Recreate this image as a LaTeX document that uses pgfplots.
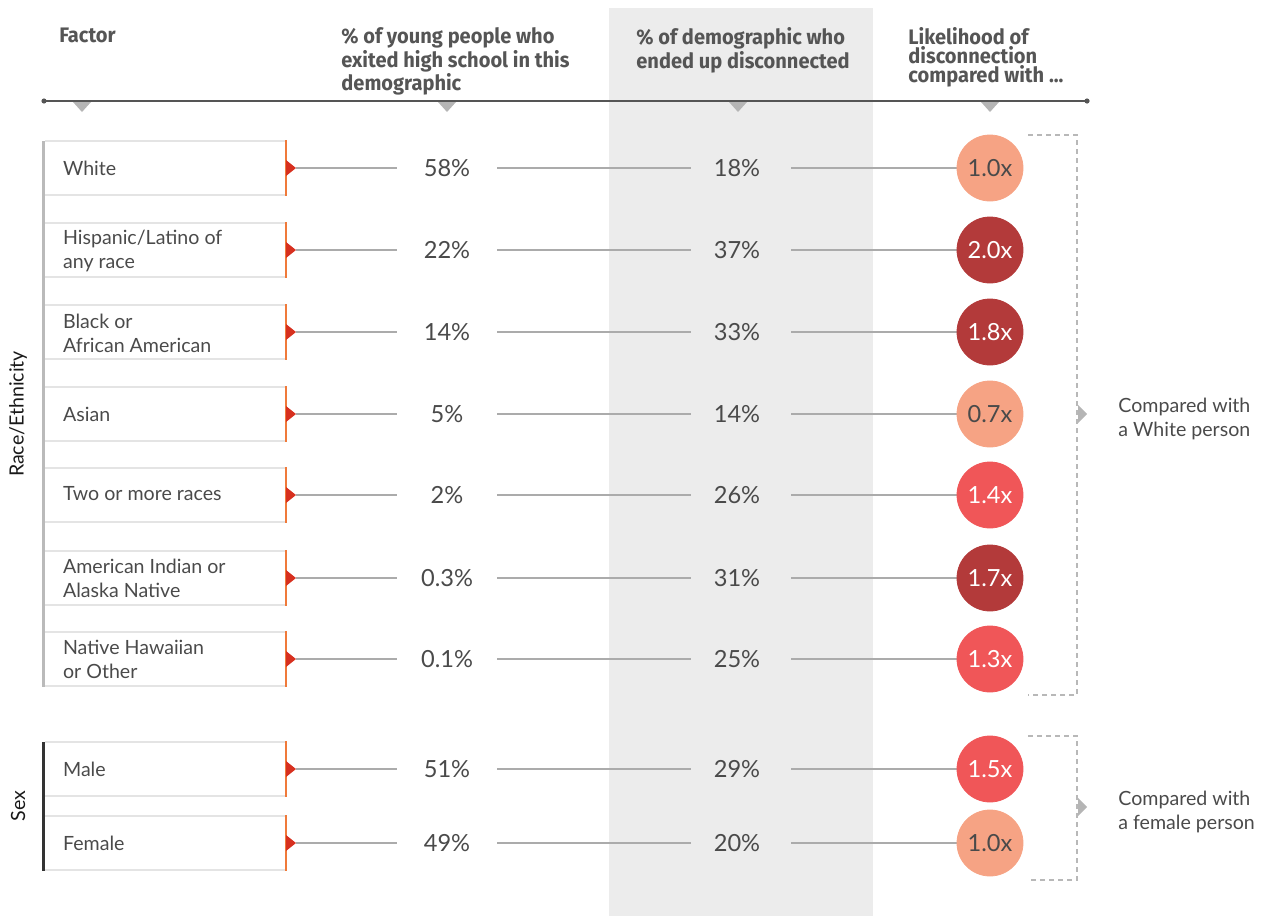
\documentclass[border=0pt]{standalone}
\usepackage{pgfplots}
\pgfplotsset{compat=1.18}
\usepackage{pgfplotstable}
\usepackage{fontspec}
\setmainfont{Lato}
\newfontfamily\headfont[FakeStretch=0.955]{Fira Sans}
\definecolor{txt}{HTML}{4A4A4A}
\definecolor{hdr}{HTML}{555555}
\definecolor{lite}{HTML}{F6A384}
\definecolor{mid}{HTML}{F05658}
\definecolor{dark}{HTML}{B33A3A}
\definecolor{edge}{HTML}{F07A3A}
\definecolor{tri}{HTML}{D7301F}
\definecolor{colshade}{HTML}{ECECEC}
\definecolor{boxln}{HTML}{E4E4E4}
\definecolor{conn}{HTML}{ABABAB}
\definecolor{trig}{HTML}{B5B5B5}

% y = row centre (pixels from top), exit = % who exited high school, disc = % disconnected
\pgfplotstableread{
y exit disc
168 58 18
250 22 37
332 14 33
414 5 14
495 2 26
578 0.3 31
659 0.1 25
769 51 29
843 49 20
}\rows

\newcommand\pctfont{\fontsize{11.8}{12}\selectfont}
\newcommand\lblfont{\fontsize{9.8}{12}\selectfont}
\newcommand\hdrfont{\headfont\bfseries\fontsize{10.5}{9.5}\selectfont}

\begin{document}
\begin{tikzpicture}
\begin{axis}[
  scale only axis, width=635pt, height=458pt,
  xmin=0, xmax=1270, ymin=0, ymax=916, y dir=reverse,
  hide axis, clip=false,
  /pgf/number format/assume math mode=true,
]
\path (rel axis cs:0,0) rectangle (rel axis cs:1,1);
% shaded column
\fill[colshade] (axis cs:609,8) rectangle (axis cs:873,916);

% headers
\node[anchor=north west, inner sep=0, align=left, text=hdr, font=\hdrfont] at (axis cs:59,28) {Factor};
\node[anchor=north west, inner sep=0, align=left, text=hdr, font=\hdrfont] at (axis cs:341,27) {\% of young people who\\exited high school in this\\demographic};
\node[anchor=north west, inner sep=0, align=left, text=hdr, font=\hdrfont] at (axis cs:636,27) {\% of demographic who\\ended up disconnected};
\node[anchor=north west, inner sep=0, align=left, text=hdr, font=\hdrfont] at (axis cs:908,27) {Likelihood of\\disconnection\\compared with ...};

% header rule
\draw[hdr, line width=0.7pt] (axis cs:44,101) -- (axis cs:1087,101);
\fill[hdr] (axis cs:44,101) circle[radius=1.3pt];
\fill[hdr] (axis cs:1087,101) circle[radius=1.3pt];
\pgfplotsinvokeforeach{82,447,738,990}{
  \fill[trig] (axis cs:#1-9,102) -- (axis cs:#1+9,102) -- (axis cs:#1,112) -- cycle;
}

% group bars
\fill[black!27] (axis cs:42,141) rectangle (axis cs:45,687);
\fill[black!80] (axis cs:42,742) rectangle (axis cs:45,871);
\node[rotate=90, text=black!90, font=\lblfont] at (axis cs:18,414) {Race/Ethnicity};
\node[rotate=90, text=black!90, font=\lblfont] at (axis cs:18,806) {Sex};

% boxes, edges, connectors
\pgfplotsinvokeforeach{168,250,332,414,495,578,659,769,843}{
  \draw[boxln, line width=0.7pt] (axis cs:45,#1-27) -- (axis cs:286,#1-27);
  \draw[boxln, line width=0.7pt] (axis cs:45,#1+27) -- (axis cs:286,#1+27);
  \draw[edge, line width=1pt] (axis cs:286,#1-28) -- (axis cs:286,#1+28);
  \fill[tri] (axis cs:286,#1-8) -- (axis cs:296,#1) -- (axis cs:286,#1+8) -- cycle;
  \draw[conn, line width=0.6pt] (axis cs:296,#1) -- (axis cs:397,#1);
  \draw[conn, line width=0.6pt] (axis cs:497,#1) -- (axis cs:691,#1);
  \draw[conn, line width=0.6pt] (axis cs:791,#1) -- (axis cs:958,#1);
}

% row labels
\node[anchor=west, align=left, text=txt, font=\lblfont] at (axis cs:56,168) {White};
\node[anchor=west, align=left, text=txt, font=\lblfont] at (axis cs:56,251) {Hispanic/Latino of\\any race};
\node[anchor=west, align=left, text=txt, font=\lblfont] at (axis cs:56,333) {Black or\\African American};
\node[anchor=west, align=left, text=txt, font=\lblfont] at (axis cs:56,414) {Asian};
\node[anchor=west, align=left, text=txt, font=\lblfont] at (axis cs:56,494) {Two or more races};
\node[anchor=west, align=left, text=txt, font=\lblfont] at (axis cs:56,578) {American Indian or\\Alaska Native};
\node[anchor=west, align=left, text=txt, font=\lblfont] at (axis cs:56,659) {Native Hawaiian\\or Other};
\node[anchor=west, align=left, text=txt, font=\lblfont] at (axis cs:56,769) {Male};
\node[anchor=west, align=left, text=txt, font=\lblfont] at (axis cs:56,843) {Female};

% percentages
\addplot[draw=none, mark=none, point meta=explicit,
  nodes near coords={\pgfmathprintnumber{\pgfplotspointmeta}\%},
  every node near coord/.append style={anchor=center, text=txt, font=\pctfont}]
  table[x expr=447, y=y, meta=exit] {\rows};
\addplot[draw=none, mark=none, point meta=explicit,
  nodes near coords={\pgfmathprintnumber{\pgfplotspointmeta}\%},
  every node near coord/.append style={anchor=center, text=txt, font=\pctfont}]
  table[x expr=737, y=y, meta=disc] {\rows};

% likelihood circles
\addplot[lite, only marks, mark=*, mark size=16.5pt, mark options={draw=lite, fill=lite}, point meta=explicit,
  nodes near coords={\pgfmathprintnumber[fixed, fixed zerofill, precision=1]{\pgfplotspointmeta}x},
  every node near coord/.append style={anchor=center, text=txt, font=\pctfont}]
  coordinates {(990,168) [1.0] (990,414) [0.7] (990,843) [1.0]};
\addplot[mid, only marks, mark=*, mark size=16.5pt, mark options={draw=mid, fill=mid}, point meta=explicit,
  nodes near coords={\pgfmathprintnumber[fixed, fixed zerofill, precision=1]{\pgfplotspointmeta}x},
  every node near coord/.append style={anchor=center, text=white, font=\pctfont}]
  coordinates {(990,495) [1.4] (990,659) [1.3] (990,769) [1.5]};
\addplot[dark, only marks, mark=*, mark size=16.5pt, mark options={draw=dark, fill=dark}, point meta=explicit,
  nodes near coords={\pgfmathprintnumber[fixed, fixed zerofill, precision=1]{\pgfplotspointmeta}x},
  every node near coord/.append style={anchor=center, text=white, font=\pctfont}]
  coordinates {(990,250) [2.0] (990,332) [1.8] (990,578) [1.7]};

% brackets
\draw[black!28, line width=0.8pt, dash pattern=on 2.5pt off 2pt] (axis cs:1028,135) -- (axis cs:1077,135) -- (axis cs:1077,695) -- (axis cs:1028,695);
\draw[black!28, line width=0.8pt, dash pattern=on 2.5pt off 2pt] (axis cs:1028,736) -- (axis cs:1077,736) -- (axis cs:1077,880) -- (axis cs:1028,880);
\fill[trig] (axis cs:1078,405) -- (axis cs:1087,414) -- (axis cs:1078,423) -- cycle;
\fill[trig] (axis cs:1078,798) -- (axis cs:1087,807) -- (axis cs:1078,816) -- cycle;
\node[anchor=west, align=left, text=txt, font=\lblfont, inner sep=0] at (axis cs:1118,419) {Compared with\\a White person};
\node[anchor=west, align=left, text=txt, font=\lblfont, inner sep=0] at (axis cs:1118,812) {Compared with\\a female person};
\end{axis}
\end{tikzpicture}
\end{document}
